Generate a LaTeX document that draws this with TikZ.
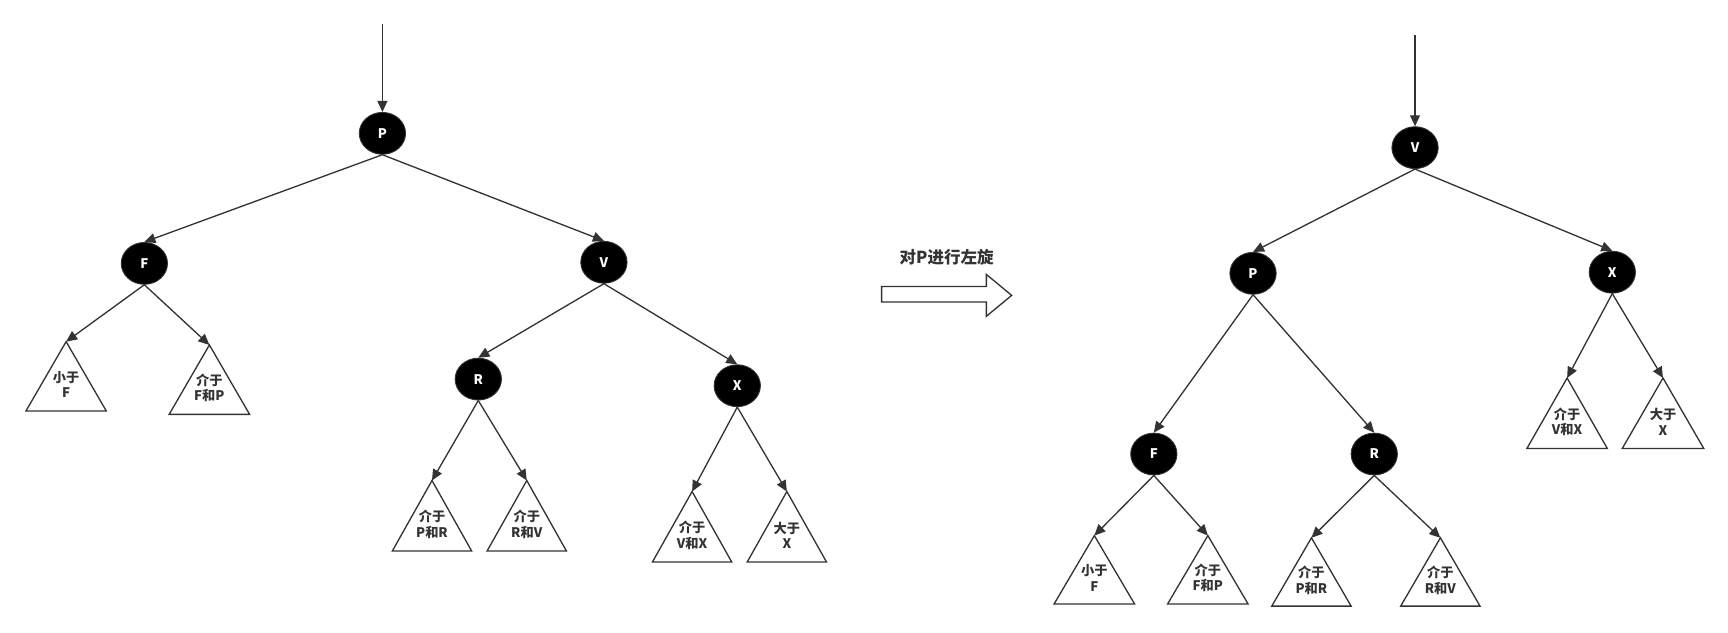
\documentclass[tikz,border=0pt]{standalone}
\usepackage{fontspec}
\setmainfont{Noto Sans CJK SC}
\usetikzlibrary{shapes.geometric,arrows.meta}
\definecolor{ln}{HTML}{333333}
\tikzset{
 rb/.style={ellipse,fill=black,draw=ln,minimum width=21pt,minimum height=19pt,inner sep=0pt,text=white,font=\fontsize{6}{7}\selectfont\bfseries},
 ed/.style={draw=ln,line width=0.6pt,-{Triangle[length=5pt,width=4.5pt]}},
 tri/.style={draw=ln,line width=0.6pt},
 tl/.style={align=center,text=ln,font=\fontsize{6}{7}\selectfont\bfseries,inner sep=0pt}
}
\newcommand{\subtree}[6]{% name, apex x, apex y, base y, half width, text
 \coordinate (#1) at (#2,#3);
 \draw[tri] (#1) -- (#2-#5,#4) -- (#2+#5,#4) -- cycle;
 \node[tl] (#1t) at (#2,{#3+0.62*(#4-#3)}) {#6};
}
\begin{document}
\begin{tikzpicture}[x=0.5pt,y=-0.5pt]
\useasboundingbox (0,0) rectangle (1568,574);
% left tree
\coordinate (ltop) at (347,22);
\node[rb] (P) at (347,121) {P};
\node[rb] (F) at (131,239) {F};
\node[rb] (V) at (548,238) {V};
\node[rb] (R) at (434,344) {R};
\node[rb] (X) at (669,350) {X};
\subtree{t1}{60}{310}{373}{36.5}{小于\\F}
\subtree{t2}{190}{313}{376}{36.5}{介于\\F和P}
\subtree{t3}{392}{436}{500}{36}{介于\\P和R}
\subtree{t4}{478}{436}{500}{36}{介于\\R和V}
\subtree{t5}{628}{446}{510}{36}{介于\\V和X}
\subtree{t6}{714}{446}{510}{36}{大于\\X}
\draw[ed] (ltop) -- (P);
\draw[ed] (P.south) -- (F.north);
\draw[ed] (P.south) -- (V.north);
\draw[ed] (F.south) -- (t1);
\draw[ed] (F.south) -- (t2);
\draw[ed] (V.south) -- (R.north);
\draw[ed] (V.south) -- (X.north);
\draw[ed] (R.south) -- (t3);
\draw[ed] (R.south) -- (t4);
\draw[ed] (X.south) -- (t5);
\draw[ed] (X.south) -- (t6);
% rotation arrow
\draw[draw=ln,line width=0.6pt] (800,260) -- (895,260) -- (895,249) -- (918,268) -- (895,287) -- (895,274) -- (800,274) -- cycle;
\node[tl,font=\fontsize{7.5}{9}\selectfont\bfseries] (lab) at (859,233) {对P进行左旋};
% right tree
\coordinate (rtop) at (1284,32);
\node[rb] (V2) at (1284,134) {V};
\node[rb] (P2) at (1137,248) {P};
\node[rb] (X2) at (1463,247) {X};
\node[rb] (F2) at (1047,412) {F};
\node[rb] (R2) at (1247,412) {R};
\subtree{s1}{993}{486}{548}{36.5}{小于\\F}
\subtree{s2}{1096}{486}{548}{36.5}{介于\\F和P}
\subtree{s3}{1190}{488}{550}{36}{介于\\P和R}
\subtree{s4}{1307}{488}{550}{36}{介于\\R和V}
\subtree{s5}{1422}{343}{407}{36.5}{介于\\V和X}
\subtree{s6}{1509}{343}{407}{37}{大于\\X}
\draw[ed] (rtop) -- (V2);
\draw[ed] (V2.south) -- (P2.north);
\draw[ed] (V2.south) -- (X2.north);
\draw[ed] (P2.south) -- (F2.north);
\draw[ed] (P2.south) -- (R2.north);
\draw[ed] (F2.south) -- (s1);
\draw[ed] (F2.south) -- (s2);
\draw[ed] (R2.south) -- (s3);
\draw[ed] (R2.south) -- (s4);
\draw[ed] (X2.south) -- (s5);
\draw[ed] (X2.south) -- (s6);
\end{tikzpicture}
\end{document}
